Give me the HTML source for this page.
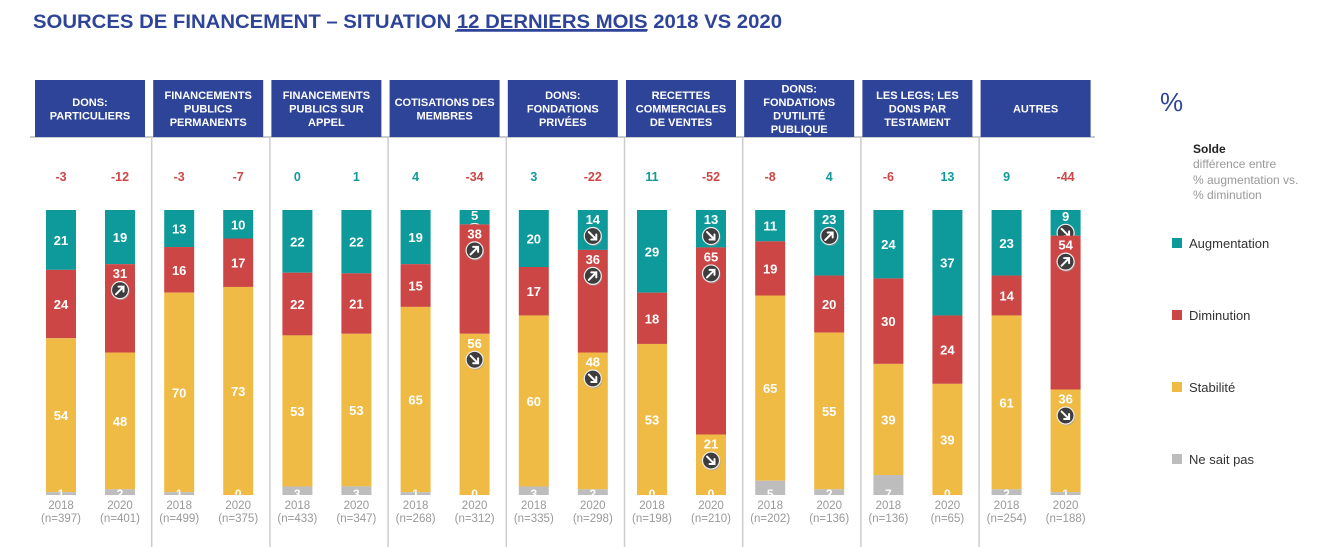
<!DOCTYPE html>
<html><head><meta charset="utf-8"><style>
body{margin:0;background:#fff;font-family:"Liberation Sans",Arial,sans-serif}
svg{display:block}
</style></head><body>
<svg id="chart" width="1323" height="547" viewBox="0 0 1323 547" xmlns="http://www.w3.org/2000/svg" font-family="Liberation Sans, Arial, sans-serif">
<text x="33" y="28" font-size="19" font-weight="bold" fill="#2e4499" textLength="749" lengthAdjust="spacingAndGlyphs">SOURCES DE FINANCEMENT – SITUATION <tspan text-decoration="underline">12 DERNIERS MOIS</tspan> 2018 VS 2020</text>
<line x1="455" y1="31" x2="647" y2="31" stroke="#2e4499" stroke-width="1.5"/>
<g id="plot"></g>
<text x="1160" y="111" font-size="26" fill="#2e4499">%</text>
<text x="1193" y="153" font-size="12" font-weight="bold" fill="#222">Solde</text>
<text font-size="12" fill="#999"><tspan x="1193" y="168">différence entre</tspan><tspan x="1193" y="184">% augmentation vs.</tspan><tspan x="1193" y="199">% diminution</tspan></text>
<g><rect x="1172" y="238" width="10" height="10" fill="#0e9a9a"/><text x="1189" y="248" font-size="13" fill="#333">Augmentation</text></g>
<g><rect x="1172" y="310" width="10" height="10" fill="#cd4646"/><text x="1189" y="320" font-size="13" fill="#333">Diminution</text></g>
<g><rect x="1172" y="382" width="10" height="10" fill="#efbb45"/><text x="1189" y="392" font-size="13" fill="#333">Stabilité</text></g>
<g><rect x="1172" y="454" width="10" height="10" fill="#bdbdbd"/><text x="1189" y="464" font-size="13" fill="#333">Ne sait pas</text></g>
</svg>
<script>
const categories=[["DONS:","PARTICULIERS"],["FINANCEMENTS","PUBLICS","PERMANENTS"],["FINANCEMENTS","PUBLICS SUR","APPEL"],["COTISATIONS DES","MEMBRES"],["DONS:","FONDATIONS","PRIVÉES"],["RECETTES","COMMERCIALES","DE VENTES"],["DONS:","FONDATIONS","D'UTILITÉ","PUBLIQUE"],["LES LEGS; LES","DONS PAR","TESTAMENT"],["AUTRES"]];
const years=["2018","2020"];
const augmentation=[21,19,13,10,22,22,19,5,20,14,29,13,11,23,24,37,23,9];
const diminution=[24,31,16,17,22,21,15,38,17,36,18,65,19,20,30,24,14,54];
const stabilite=[54,48,70,73,53,53,65,56,60,48,53,21,65,55,39,39,61,36];
const neSaitPas=[1,2,1,0,3,3,1,0,3,2,0,0,5,2,7,0,2,1];
const solde=[-3,-12,-3,-7,0,1,4,-34,3,-22,11,-52,-8,4,-6,13,9,-44];
const sampleSizes=[397,401,499,375,433,347,268,312,335,298,198,210,202,136,136,65,254,188];
// arrows per bar: [aug, dim, stab] : 1 up, -1 down, 0 none
const arrowsAug=[0,0,0,0,0,0,0,-1,0,-1,0,-1,0,1,0,0,0,-1];
const arrowsDim=[0,1,0,0,0,0,0,1,0,1,0,1,0,0,0,0,0,1];
const arrowsStab=[0,0,0,0,0,0,0,-1,0,-1,0,-1,0,0,0,0,0,-1];

const NS="http://www.w3.org/2000/svg";
const plot=document.getElementById('plot');
function el(t,a,p){const e=document.createElementNS(NS,t);for(const k in a)e.setAttribute(k,a[k]);(p||plot).appendChild(e);return e;}
const colors=["#0e9a9a","#cd4646","#efbb45","#bdbdbd"];
const segNames=["augmentation","diminution","stabilite","ne-sait-pas"];
const G0=35,GW=118.2,BW=30,BTOP=210,BBOT=495;
function groupX(g){return G0+g*GW;}
function barX(i){return groupX(Math.floor(i/2))+11+(i%2)*59;}
function yScale(v,total){return (BBOT-BTOP)*v/total;}

// header baseline and separators
let l=el('line',{x1:30,y1:137,x2:1095,y2:137,stroke:'#bbb','stroke-width':1.5});


for(let g=1;g<categories.length;g++){
  const s=el('line',{x1:groupX(g)-1.5,y1:137,x2:groupX(g)-1.5,y2:547,stroke:'#ccc','stroke-width':1.5});
  
  
}
categories.forEach((c,g)=>{
  const x=groupX(g);
  const r=el('rect',{x:x,y:80,width:110,height:57,fill:'#2e4499'});
  
  
  const t=el('text',{'font-size':11,'font-weight':'bold',fill:'#fff','text-anchor':'middle'});
  
  
  const lh=13.5,y0=108.5-(c.length-1)*lh/2+4;
  c.forEach((line,k)=>{const ts=el('tspan',{x:x+55,y:y0+k*lh},t);ts.textContent=line;});
});
function arrow(cx,cy,dir){
  const g=el('g',{});
  
  
  el('circle',{cx:cx+1,cy:cy+1.5,r:8.5,fill:'#999',opacity:0.6},g);
  el('circle',{cx:cx,cy:cy,r:8.5,fill:'#3d3d3d',stroke:'#eee','stroke-width':1.2},g);
  const d=dir>0?`M${cx-4} ${cy+4}L${cx+3.5} ${cy-3.5}M${cx-1.5} ${cy-3.5}H${cx+3.5}V${cy+1.5}`:`M${cx-4} ${cy-4}L${cx+3.5} ${cy+3.5}M${cx-1.5} ${cy+3.5}H${cx+3.5}V${cy-1.5}`;
  el('path',{d:d,stroke:'#fff','stroke-width':2,fill:'none','stroke-linecap':'round'},g);
}
for(let i=0;i<augmentation.length;i++){
  const vals=[augmentation[i],diminution[i],stabilite[i],neSaitPas[i]];
  const arr=[arrowsAug[i],arrowsDim[i],arrowsStab[i],0];
  const total=vals.reduce((a,b)=>a+b,0);
  const x=barX(i),cx=x+BW/2;
  let y=BTOP;
  vals.forEach((v,k)=>{
    const h=yScale(v,total);
    const r=el('rect',{x:x,y:y,width:BW,height:Math.max(h,0),fill:colors[k]});
    
    
    if(k<3){
      let ly=y+h/2+5;
      if(arr[k]){ly=y+Math.min(h/2,16)-(h<25?3:2)+(h<25?8:0);if(h<25)ly=y+10;
        arrow(cx,ly+12,arr[k]);}
      const t=el('text',{x:cx,y:ly,'font-size':13,'font-weight':'bold',fill:'#fff','text-anchor':'middle'});
      
      
      t.textContent=v;
    }else{
      const t=el('text',{x:cx,y:BBOT+3,'font-size':12,'font-weight':'bold',fill:'#fff','text-anchor':'middle'});
      
      
      t.textContent=v;
    }
    y+=h;
  });
  const s=el('text',{x:cx,y:181,'font-size':12.5,'font-weight':'bold',fill:solde[i]<0?'#cd4646':'#0e9a9a','text-anchor':'middle'});
  
  
  s.textContent=solde[i];
  const yl=el('text',{x:cx,y:509,'font-size':11.5,fill:'#999','text-anchor':'middle'});
  
  
  yl.textContent=years[i%2];
  const nl=el('text',{x:cx,y:522,'font-size':11.5,fill:'#999','text-anchor':'middle'});
  
  
  nl.textContent='(n='+sampleSizes[i]+')';
}
</script>
</body></html>
